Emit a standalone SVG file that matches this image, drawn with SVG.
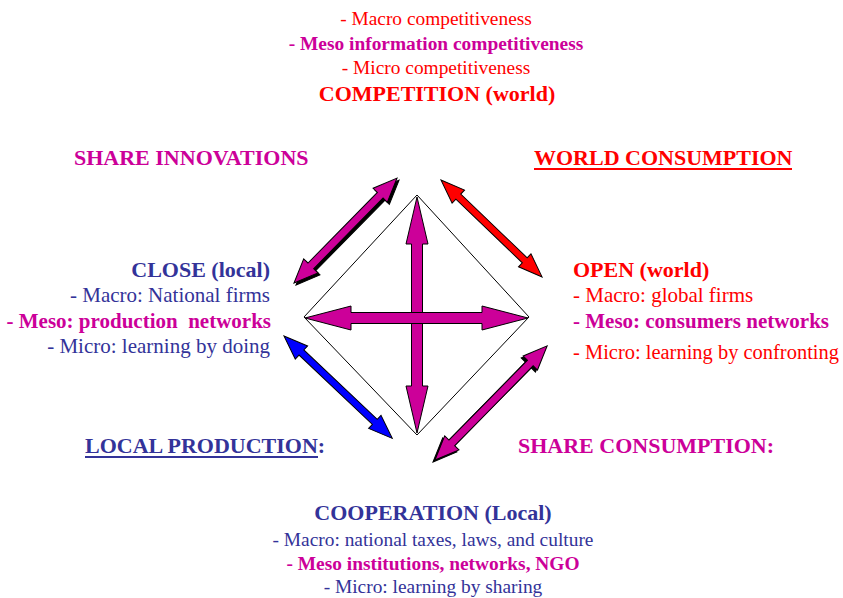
<svg xmlns="http://www.w3.org/2000/svg" width="843" height="598" viewBox="0 0 843 598">
<style>
text{font-family:"Liberation Serif","Times New Roman",serif;font-size:19.4px}
.s{font-size:21px}
.b{font-weight:bold}
.h{font-size:22px;font-weight:bold}
.r{fill:#ff0000}.m{fill:#cc0099}.u{fill:#333399}
.mid{text-anchor:middle}.end{text-anchor:end}
.arr{stroke:#000;stroke-width:1;stroke-linejoin:miter}
</style>
<rect width="843" height="598" fill="#fff"/>
<g id="diamond"><polygon points="417,195 529,317 417,435 304,317" fill="none" stroke="#000" stroke-width="1"/></g>
<g id="connectors">
<polygon class="arr" fill="#cc0099" transform="translate(417,197) rotate(90)" points="0,0 47,-11 47,-5.5 189,-5.5 189,-11 236,0 189,11 189,5.5 47,5.5 47,11"/>
<polygon class="arr" fill="#cc0099" transform="translate(305,318)" points="0,0 46,-12 46,-5.5 177,-5.5 177,-12 223,0 177,12 177,5.5 46,5.5 46,12"/>
<polygon class="arr" fill="#000" transform="translate(296,285) rotate(-45.5)" points="0,0 24,-10 24,-4 123,-4 123,-10 147,0 123,10 123,4 24,4 24,10"/>
<polygon class="arr" fill="#cc0099" transform="translate(294,283) rotate(-45.5)" points="0,0 24,-10 24,-4 123,-4 123,-10 147,0 123,10 123,4 24,4 24,10"/>
<polygon class="arr" fill="#ff0000" transform="translate(441,180) rotate(43.8)" points="0,0 24,-9 24,-3.5 116,-3.5 116,-9 140,0 116,9 116,3.5 24,3.5 24,9"/>
<polygon class="arr" fill="#0000ff" transform="translate(284,336) rotate(43.4)" points="0,0 24,-9 24,-3.5 125,-3.5 125,-9 149,0 125,9 125,3.5 24,3.5 24,9"/>
<polygon class="arr" fill="#000" transform="translate(433,462) rotate(-45.5)" points="0,0 24,-10 24,-4 136,-4 136,-10 160,0 136,10 136,4 24,4 24,10"/>
<polygon class="arr" fill="#cc0099" transform="translate(435,460) rotate(-45.5)" points="0,0 24,-10 24,-4 136,-4 136,-10 160,0 136,10 136,4 24,4 24,10"/>
</g>
<g id="competition">
<text class="r mid" x="436" y="25">- Macro competitiveness</text>
<text class="m b mid" x="436" y="50">- Meso information competitiveness</text>
<text class="r mid" x="436" y="74">- Micro competitiveness</text>
<text class="r h mid" x="437" y="101">COMPETITION (world)</text>
</g>
<g id="share-innovations"><text class="m h" x="74" y="165">SHARE INNOVATIONS</text></g>
<g id="world-consumption"><text class="r h" x="534" y="165">WORLD CONSUMPTION</text><line x1="534" y1="169" x2="792" y2="169" stroke="#ff0000" stroke-width="2"/></g>
<g id="close">
<text class="u h end" x="270" y="277">CLOSE (local)</text>
<text class="u s end" x="270" y="302">- Macro: National firms</text>
<text class="m s b end" x="271" y="328" xml:space="preserve">- Meso: production  networks</text>
<text class="u s end" x="270" y="353">- Micro: learning by doing</text>
</g>
<g id="open">
<text class="r h" x="573" y="277">OPEN (world)</text>
<text class="r s" x="573" y="302">- Macro: global firms</text>
<text class="m s b" x="573" y="328">- Meso: consumers networks</text>
<text class="r s" x="573" y="359" style="font-size:20.5px" textLength="266" lengthAdjust="spacingAndGlyphs">- Micro: learning by confronting</text>
</g>
<g id="local-production"><text class="u h" x="85" y="453">LOCAL PRODUCTION:</text><line x1="85" y1="457" x2="318" y2="457" stroke="#333399" stroke-width="2"/></g>
<g id="share-consumption"><text class="m h" x="518" y="453">SHARE CONSUMPTION:</text></g>
<g id="cooperation">
<text class="u h mid" x="433" y="520">COOPERATION (Local)</text>
<text class="u mid" x="433" y="546">- Macro: national taxes, laws, and culture</text>
<text class="m b mid" x="433" y="570">- Meso institutions, networks, NGO</text>
<text class="u mid" x="433" y="593">- Micro: learning by sharing</text>
</g>
</svg>
